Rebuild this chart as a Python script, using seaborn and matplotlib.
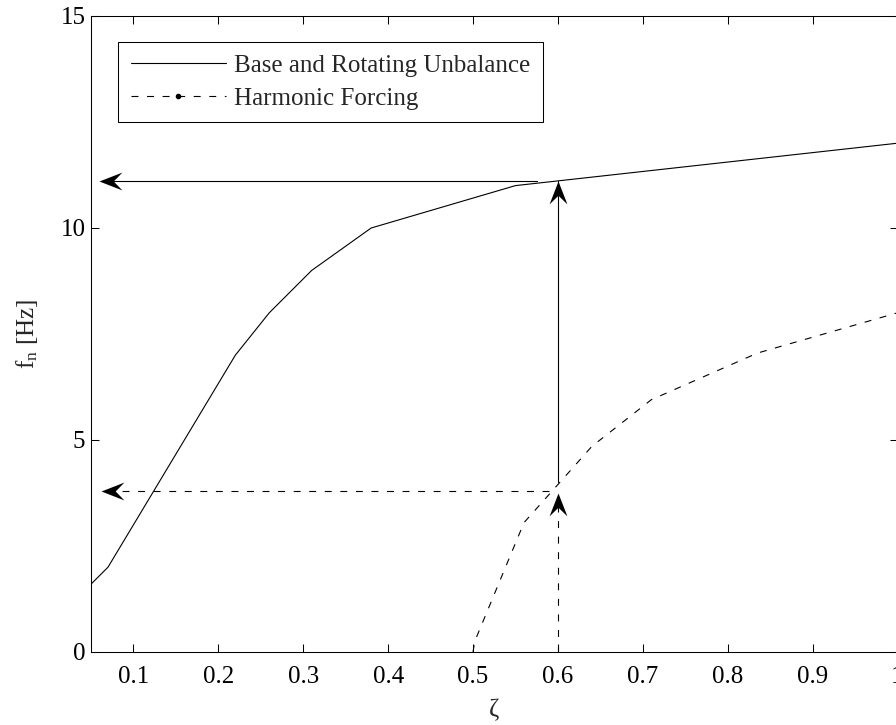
import matplotlib
matplotlib.use("Agg")
import numpy as np
import pandas as pd
import seaborn as sns
import matplotlib.pyplot as plt
from matplotlib.path import Path
from matplotlib.lines import Line2D

# Natural frequency needed versus damping ratio
zeta_base = [0.05, 0.07, 0.16, 0.22, 0.26, 0.31, 0.38, 0.55, 1.0]
fn_base = [1.6, 2.0, 5.0, 7.0, 8.0, 9.0, 10.0, 11.0, 12.0]

zeta_harm = [0.5, 0.502, 0.56, 0.6, 0.64, 0.71, 0.835, 1.0]
fn_harm = [0.0, 0.25, 3.05, 3.95, 4.85, 5.95, 7.05, 8.0]

series_labels = ["Base and Rotating Unbalance", "Harmonic Forcing"]

# Design point read-off
zeta_design = 0.6
fn_base_design = 11.1
fn_harm_design = 3.8
zeta_readoff = 0.06

x_ticks = [0.1, 0.2, 0.3, 0.4, 0.5, 0.6, 0.7, 0.8, 0.9, 1.0]
x_tick_labels = ["0.1", "0.2", "0.3", "0.4", "0.5", "0.6", "0.7", "0.8", "0.9", "1"]
y_ticks = [0, 5, 10, 15]

sns.set_style("ticks")
plt.rcParams.update({
    "font.family": ["Liberation Serif", "DejaVu Serif"],
    "mathtext.fontset": "custom",
    "mathtext.rm": "Liberation Serif",
    "mathtext.it": "Liberation Serif:italic",
    "axes.linewidth": 0.75,
    "axes.edgecolor": "black",
    "xtick.direction": "in",
    "ytick.direction": "in",
    "xtick.top": True,
    "ytick.right": True,
    "xtick.major.size": 6,
    "ytick.major.size": 6,
    "xtick.major.width": 0.75,
    "ytick.major.width": 0.75,
    "xtick.color": "black",
    "ytick.color": "black",
})

FS = 18
LW = 0.8
DASH = (0, (5.0 / LW, 6.2 / LW))

base_df = pd.DataFrame({"zeta": zeta_base, "fn": fn_base})
harm_df = pd.DataFrame({"zeta": zeta_harm, "fn": fn_harm})

fig = plt.figure(figsize=(8.96, 7.25), dpi=100)
ax = fig.add_axes([91 / 896, 1 - 652 / 725, (897.5 - 91) / 896, (652 - 16) / 725])

sns.lineplot(data=base_df, x="zeta", y="fn", ax=ax, color="black", lw=LW,
             sort=False, estimator=None)
sns.lineplot(data=harm_df, x="zeta", y="fn", ax=ax, color="black", lw=LW,
             linestyle=DASH, sort=False, estimator=None)


def arrow_head(x, y, angle, size=33):
    """Barbed arrow head with its tip at (x, y), pointing at `angle` degrees."""
    verts = np.array([(0, 0), (-1, 0.39), (-0.62, 0), (-1, -0.39), (0, 0)])
    a = np.deg2rad(angle)
    rot = np.array([[np.cos(a), -np.sin(a)], [np.sin(a), np.cos(a)]])
    verts = verts @ rot.T
    codes = [Path.MOVETO, Path.LINETO, Path.LINETO, Path.LINETO, Path.CLOSEPOLY]
    ax.plot([x], [y], marker=Path(verts, codes), ms=size, color="black",
            mec="black", mew=0, ls="none", clip_on=False)


# read-off lines from the design damping ratio
ax.plot([zeta_design, zeta_design], [4.0, fn_base_design], color="black", lw=LW)
arrow_head(zeta_design, fn_base_design, 90)
ax.plot([0.575, zeta_readoff + 0.01], [fn_base_design, fn_base_design], color="black", lw=LW)
arrow_head(zeta_readoff, fn_base_design, 180)

ax.plot([zeta_design, zeta_design], [0, 3.6], color="black", lw=LW, linestyle=DASH)
arrow_head(zeta_design, 3.75, 90)
ax.plot([zeta_design - 0.01, zeta_readoff + 0.01], [fn_harm_design, fn_harm_design],
        color="black", lw=LW, linestyle=DASH)
arrow_head(zeta_readoff + 0.002, fn_harm_design, 180)

ax.set_xlim(0.05, 1.0)
ax.set_ylim(0, 15)
ax.set_xticks(x_ticks)
ax.set_xticklabels(x_tick_labels)
ax.set_yticks(y_ticks)
ax.tick_params(axis="x", labelsize=FS, pad=10)
ax.tick_params(axis="y", labelsize=FS, pad=4)
ax.set_xlabel("ζ", fontsize=FS, labelpad=8)
ax.set_ylabel(r"f$_\mathregular{n}$ [Hz]", fontsize=FS, labelpad=15)

handles = [
    Line2D([], [], color="black", lw=LW),
    Line2D([], [], color="black", lw=LW, linestyle=DASH, marker=".", ms=6),
]
leg = ax.legend(handles, series_labels, loc="upper left",
                bbox_to_anchor=(0.0335, 0.9596), borderaxespad=0,
                fontsize=FS, handlelength=3.8, handletextpad=0.33,
                labelspacing=0.43, borderpad=0.5, fancybox=False,
                framealpha=1, edgecolor="black")
leg.get_frame().set_linewidth(0.75)

fig.savefig("out.png", dpi=100)
